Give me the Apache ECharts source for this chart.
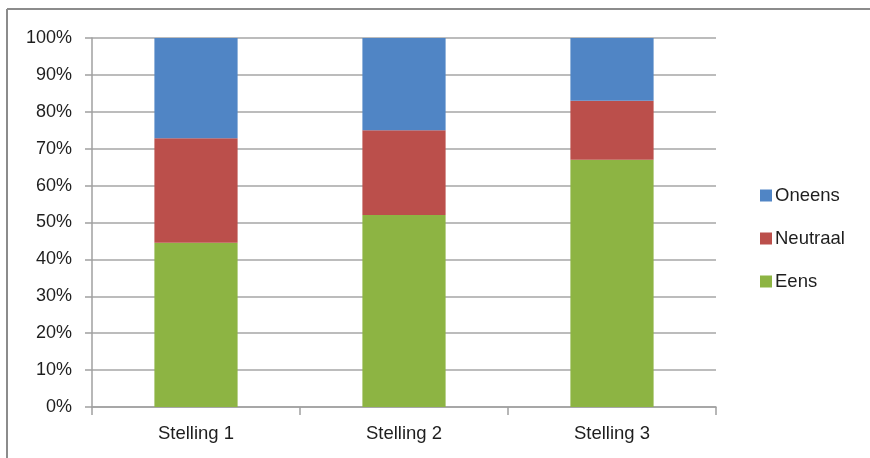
<!DOCTYPE html>
<html>
<head>
<meta charset="utf-8">
<script src="https://cdn.jsdelivr.net/npm/echarts@6/dist/echarts.min.js"></script>
<style>
html,body{margin:0;padding:0;background:#fff;}
#c{width:870px;height:458px;}
</style>
</head>
<body>
<div id="c"></div>
<script>
var categories = ['Stelling 1', 'Stelling 2', 'Stelling 3'];
var eens = [44.5, 52, 67];
var neutraal = [28.3, 23, 16];
var oneens = [27.2, 25, 17];
var yTicks = { min: 0, max: 100, interval: 10 };

var chart = echarts.init(document.getElementById('c'));
var font = 'Liberation Sans, Arial, sans-serif';
chart.setOption({
  animation: false,
  backgroundColor: '#fff',
  textStyle: { fontFamily: font },
  graphic: [
    { type: 'line', shape: { x1: 7, y1: 9, x2: 870, y2: 9 }, style: { stroke: '#8c8c8c', lineWidth: 2 } },
    { type: 'line', shape: { x1: 7, y1: 9, x2: 7, y2: 458 }, style: { stroke: '#8c8c8c', lineWidth: 2 } }
  ],
  grid: { left: 92, right: 154, top: 38, bottom: 51, containLabel: false },
  legend: {
    orient: 'vertical',
    left: 755,
    top: 181,
    itemWidth: 12,
    itemHeight: 12,
    itemGap: 24,
    icon: 'rect',
    data: ['Oneens', 'Neutraal', 'Eens'],
    textStyle: { fontSize: 18.5, color: '#1e1e1e', fontFamily: font, padding: [0, 0, 0, -2] }
  },
  xAxis: {
    type: 'category',
    data: categories,
    axisLine: { lineStyle: { color: '#a0a0a0', width: 1.5 } },
    axisTick: { show: true, length: 8, alignWithLabel: false, lineStyle: { color: '#a0a0a0', width: 1.5 } },
    axisLabel: { fontSize: 18.5, color: '#1e1e1e', margin: 17 },
    splitLine: { show: false }
  },
  yAxis: {
    type: 'value',
    min: yTicks.min,
    max: yTicks.max,
    interval: yTicks.interval,
    axisLine: { show: true, lineStyle: { color: '#a0a0a0', width: 1.5 } },
    axisTick: { show: true, length: 7, lineStyle: { color: '#a0a0a0', width: 1.5 } },
    axisLabel: { fontSize: 18, color: '#1e1e1e', margin: 20, formatter: '{value}%' },
    splitLine: { show: true, lineStyle: { color: '#a6a6a6', width: 1.5 } }
  },
  series: [
    { name: 'Eens', type: 'bar', stack: 'a', data: eens, barWidth: '40%', itemStyle: { color: '#8db443' } },
    { name: 'Neutraal', type: 'bar', stack: 'a', data: neutraal, itemStyle: { color: '#bb4f4b' } },
    { name: 'Oneens', type: 'bar', stack: 'a', data: oneens, itemStyle: { color: '#5085c5' } }
  ]
});
</script>
</body>
</html>
